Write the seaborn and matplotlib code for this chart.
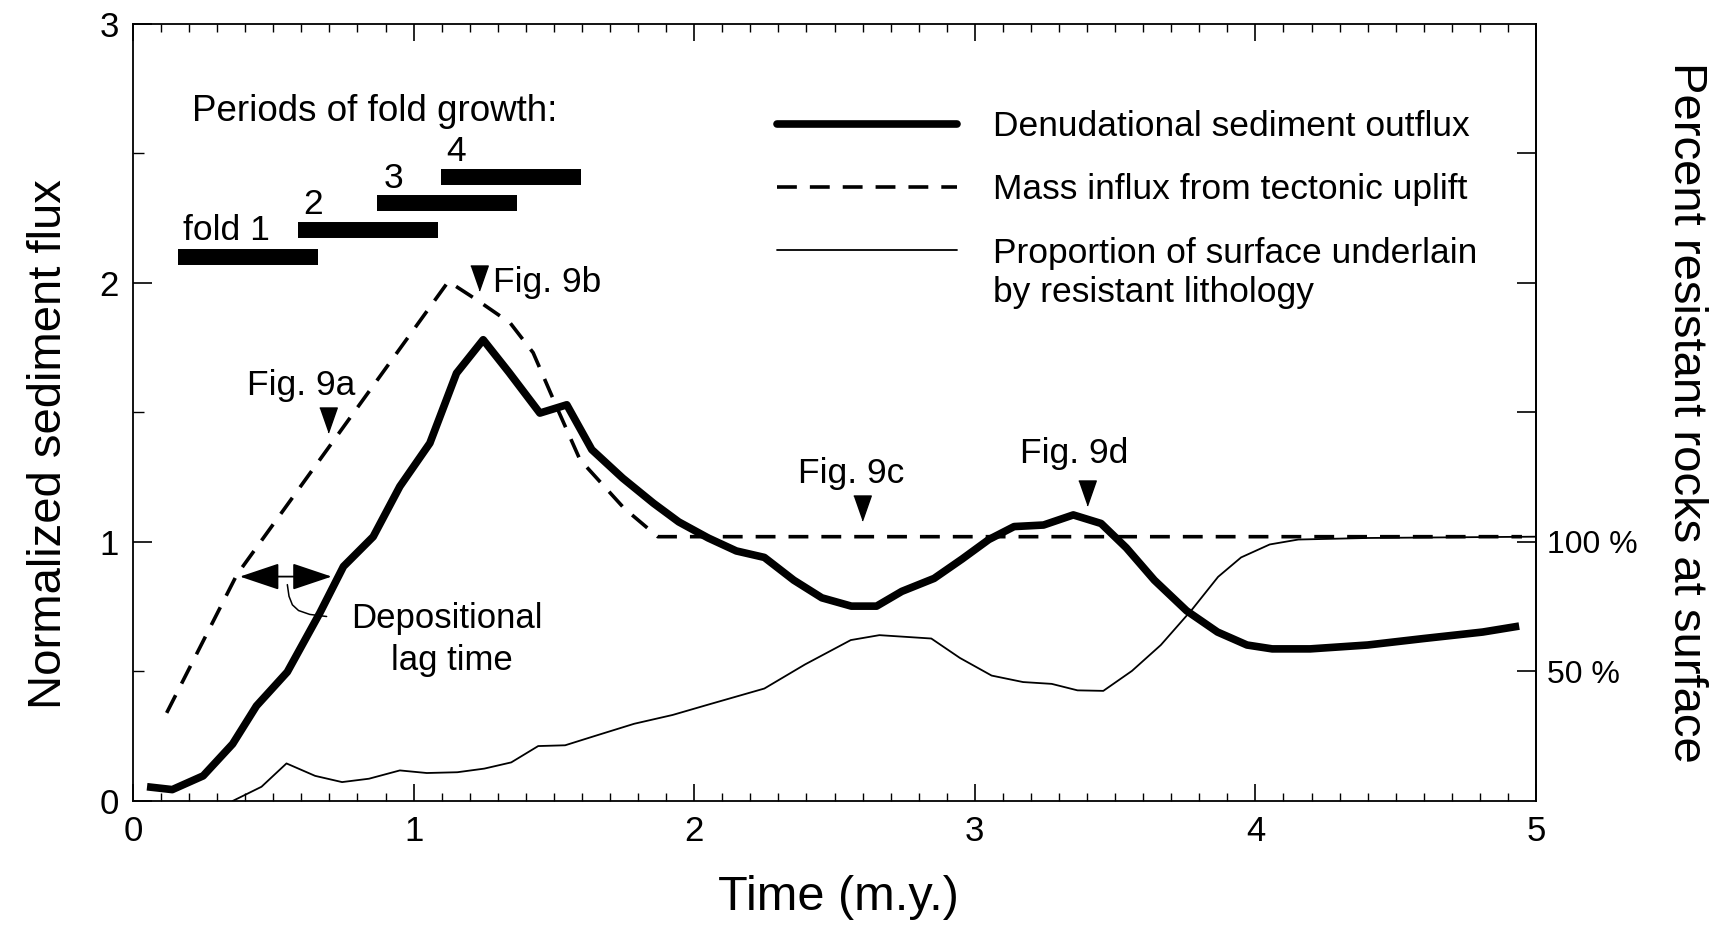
import matplotlib
matplotlib.use("Agg")
import numpy as np
import pandas as pd
import seaborn as sns
import matplotlib.pyplot as plt
from matplotlib.ticker import MultipleLocator, FixedLocator
from matplotlib.lines import Line2D

# ---------------- data ----------------
time_outflux = [0.05, 0.14, 0.25, 0.355, 0.44, 0.55, 0.666, 0.75, 0.856, 0.951, 1.058,
                1.153, 1.248, 1.34, 1.45, 1.546, 1.635, 1.745, 1.855, 1.945, 2.05,
                2.15, 2.25, 2.355, 2.455, 2.56, 2.65, 2.74, 2.855, 2.955, 3.05, 3.14,
                3.245, 3.351, 3.45, 3.54, 3.64, 3.755, 3.865, 3.97, 4.06, 4.195, 4.4,
                4.6, 4.81, 4.94]
outflux = [0.055, 0.044, 0.097, 0.22, 0.367, 0.498, 0.726, 0.905, 1.02, 1.214, 1.381,
           1.651, 1.78, 1.654, 1.497, 1.529, 1.356, 1.246, 1.149, 1.077, 1.015,
           0.965, 0.94, 0.852, 0.784, 0.752, 0.752, 0.809, 0.859, 0.934, 1.009, 1.059,
           1.065, 1.104, 1.071, 0.977, 0.852, 0.734, 0.652, 0.602, 0.587, 0.587, 0.602,
           0.627, 0.652, 0.675]

time_uplift = [0.12, 0.37, 1.124, 1.225, 1.344, 1.426, 1.51, 1.593, 1.75, 1.87, 4.95]
uplift = [0.34, 0.873, 2.005, 1.934, 1.845, 1.73, 1.52, 1.317, 1.13, 1.02, 1.02]

time_resistant = [0.355, 0.458, 0.547, 0.649, 0.745, 0.841, 0.951, 1.047, 1.156, 1.252,
                  1.348, 1.444, 1.54, 1.649, 1.786, 1.923, 2.047, 2.25, 2.395, 2.558,
                  2.66, 2.845, 2.947, 3.06, 3.172, 3.274, 3.366, 3.458, 3.56, 3.663,
                  3.775, 3.867, 3.949, 4.051, 4.153, 4.4, 5.0]
resistant_pct = [0, 5.5, 14.5, 9.7, 7.3, 8.6, 11.8, 10.8, 11.1, 12.5,
                 14.9, 21.2, 21.5, 25.2, 29.8, 33.2, 37.1, 43.4, 52.7, 62.1,
                 64.0, 62.7, 55.2, 48.4, 45.9, 45.2, 42.7, 42.5, 50.2, 60.2,
                 74.0, 86.5, 94.0, 99.0, 100.9, 101.5, 102.0]

fold_labels = ["fold 1", "2", "3", "4"]
fold_start = [0.16, 0.588, 0.868, 1.098]
fold_end = [0.66, 1.087, 1.367, 1.597]
fold_level = [2.10, 2.204, 2.306, 2.407]
fold_label_x = [0.178, 0.607, 0.892, 1.115]
fold_label_y = [2.166, 2.266, 2.367, 2.468]

fig_labels = ["Fig. 9a", "Fig. 9b", "Fig. 9c", "Fig. 9d"]
fig_label_x = [0.405, 1.283, 2.371, 3.161]
fig_label_y = [1.568, 1.966, 1.227, 1.304]
fig_marker_x = [0.695, 1.233, 2.597, 3.40]
fig_marker_y = [1.471, 2.018, 1.13, 1.188]

lag_start, lag_end, lag_level = 0.381, 0.708, 0.866
leader_x = [0.550, 0.556, 0.568, 0.59, 0.63, 0.69]
leader_y = [0.835, 0.79, 0.757, 0.735, 0.72, 0.712]

legend_labels = ["Denudational sediment outflux",
                 "Mass influx from tectonic uplift",
                 "Proportion of surface underlain"]

x_ticks = [0, 1, 2, 3, 4, 5]
y_ticks = [0, 1, 2, 3]
pct_ticks = [50, 100, 150, 200, 250]
pct_ticklabels = ["50 %", "100 %", "", "", ""]

# ---------------- style ----------------
sns.set_theme(style="ticks", rc={
    "axes.edgecolor": "black", "axes.linewidth": 1.3,
    "xtick.color": "black", "ytick.color": "black",
    "text.color": "black", "axes.labelcolor": "black",
    "figure.facecolor": "white", "axes.facecolor": "white",
})
plt.rcParams["font.family"] = ["Liberation Sans", "DejaVu Sans"]

W, H = 1711, 925
fig = plt.figure(figsize=(W / 100, H / 100), dpi=100)
ax = fig.add_axes([133 / W, 1 - 801 / H, 1403 / W, (801 - 23.6) / H])

TXT = 25.5
DASH = (5.5, 3.6)

df_out = pd.DataFrame({"time": time_outflux, "flux": outflux})
df_up = pd.DataFrame({"time": time_uplift, "flux": uplift})
df_res = pd.DataFrame({"time": time_resistant, "pct": resistant_pct})

sns.lineplot(data=df_out, x="time", y="flux", ax=ax, color="black", linewidth=5.5,
             sort=False, estimator=None, solid_joinstyle="round", solid_capstyle="butt")
sns.lineplot(data=df_up, x="time", y="flux", ax=ax, color="black", linewidth=2.6,
             sort=False, estimator=None)
ax.lines[-1].set_dashes(DASH)

ax2 = ax.twinx()
sns.lineplot(data=df_res, x="time", y="pct", ax=ax2, color="black", linewidth=1.3,
             sort=False, estimator=None)

# fold growth bars
ax.hlines(fold_level, fold_start, fold_end, colors="black", linewidth=11.5)
for lab, lx, ly in zip(fold_labels, fold_label_x, fold_label_y):
    ax.text(lx, ly, lab, ha="left", va="baseline", fontsize=TXT)
ax.text(0.209, 2.623, "Periods of fold growth:", ha="left", va="baseline", fontsize=26.5)

# figure markers
ax.plot(fig_marker_x, fig_marker_y, linestyle="none", color="black",
        marker=[(-0.35, 0.5), (0.35, 0.5), (0, -0.5)], markersize=18)
for lab, lx, ly in zip(fig_labels, fig_label_x, fig_label_y):
    ax.text(lx, ly, lab, ha="left", va="baseline", fontsize=TXT)

# depositional lag
ax.annotate("", xy=(lag_start, lag_level), xytext=(lag_end, lag_level),
            arrowprops=dict(arrowstyle="<|-|>,head_length=1.25,head_width=0.42",
                            color="black", lw=1.3, shrinkA=0, shrinkB=0,
                            mutation_scale=20))
ax.plot(leader_x, leader_y, color="black", lw=1.1)
ax.text(1.118, 0.667, "Depositional", ha="center", va="baseline", fontsize=25)
ax.text(1.136, 0.506, "lag time", ha="center", va="baseline", fontsize=25)

# legend
handles = [Line2D([], [], color="black", lw=5.5),
           Line2D([], [], color="black", lw=2.6, dashes=DASH),
           Line2D([], [], color="black", lw=1.3)]
ax.legend(handles, legend_labels, loc="center left", bbox_to_anchor=(2.294, 2.358),
          bbox_transform=ax.transData, frameon=False, fontsize=TXT,
          handlelength=5.1, handletextpad=1.0, labelspacing=0.85,
          borderpad=0, borderaxespad=0)
ax.text(3.064, 1.925, "by resistant lithology", ha="left", va="baseline", fontsize=TXT)

# axes and ticks
ax.set_xlim(0, 5)
ax.set_ylim(0, 3)
ax2.set_ylim(0, 300)
ax.set_xticks(x_ticks)
ax.set_yticks(y_ticks)
ax.xaxis.set_minor_locator(MultipleLocator(0.1))
ax.yaxis.set_minor_locator(FixedLocator([0.5, 1.5, 2.5]))
ax.tick_params(axis="x", which="major", direction="in", top=True, length=12, width=1.2,
               labelsize=25, pad=10)
ax.tick_params(axis="x", which="minor", direction="in", top=True, length=6, width=1.0)
ax.tick_params(axis="y", which="major", direction="in", right=False, length=14, width=1.2,
               labelsize=25, pad=10)
ax.tick_params(axis="y", which="minor", direction="in", right=False, length=8, width=1.0)
ax2.set_yticks(pct_ticks)
ax2.set_yticklabels(pct_ticklabels)
ax2.tick_params(axis="y", direction="in", length=14, width=1.2, labelsize=23, pad=8)
for s in ["left", "top", "bottom"]:
    ax2.spines[s].set_visible(False)

ax.set_xlabel("Time (m.y.)", fontsize=35)
ax.xaxis.set_label_coords((838 - 133) / 1403, -(897 - 801) / 777.4)
ax.xaxis.label.set_va("center")
ax.set_ylabel("Normalized sediment flux", fontsize=34)
ax.yaxis.set_label_coords((49 - 133) / 1403, (801 - 444) / 777.4)
ax.yaxis.label.set_va("center")
ax2.set_ylabel("Percent resistant rocks at surface", fontsize=34, rotation=270)
ax2.yaxis.set_label_coords((1686 - 133) / 1403, (801 - 412) / 777.4)
ax2.yaxis.label.set_va("center")
ax2.yaxis.label.set_ha("center")

fig.savefig("out.png", dpi=100)
